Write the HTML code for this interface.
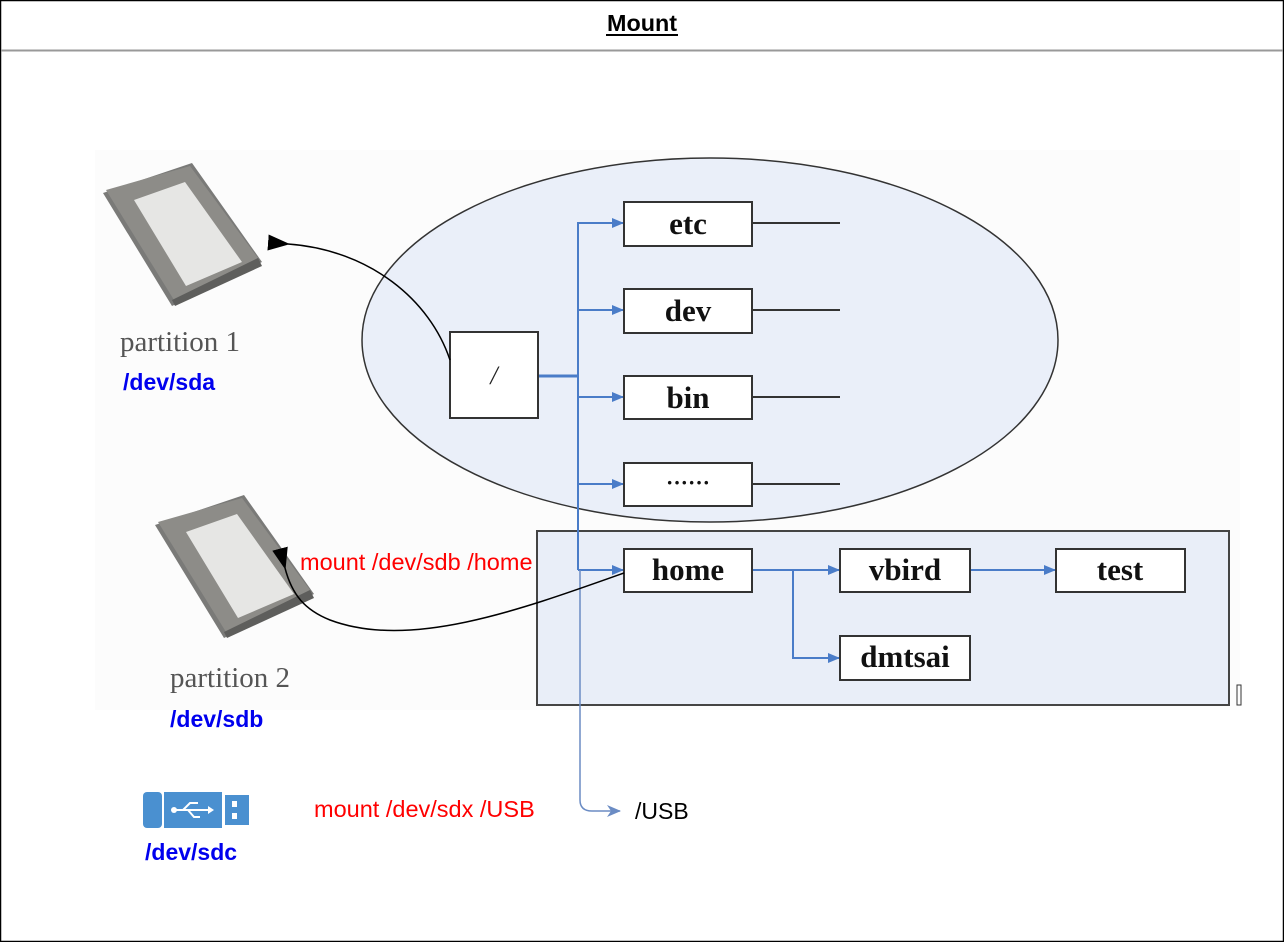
<!DOCTYPE html>
<html><head><meta charset="utf-8"><style>
html,body{margin:0;padding:0;background:#fff}
svg{display:block}
</style></head><body>
<svg width="1284" height="942" viewBox="0 0 1284 942" xmlns="http://www.w3.org/2000/svg">
<defs>
<marker id="ba" markerWidth="12" markerHeight="10" refX="11" refY="5" orient="auto" markerUnits="userSpaceOnUse"><path d="M0,0 L12,5 L0,10 Z" fill="#4a7cc8"/></marker>
<marker id="ka" markerWidth="22" markerHeight="16" refX="2" refY="8" orient="auto" markerUnits="userSpaceOnUse"><path d="M0,8 L22,0 L22,16 Z" fill="#000"/></marker>
<marker id="oa" markerWidth="14" markerHeight="12" refX="13" refY="6" orient="auto" markerUnits="userSpaceOnUse"><path d="M0,0 L14,6 L0,12 L4,6 Z" fill="#6b8cc4"/></marker>
<g id="disk">
<polygon points="103,193 192,163 262,262 172,306" fill="#7a7a78"/>
<polygon points="106,190 190,166 258,258 174,300" fill="#8d8c88"/>
<polygon points="134,200 185,182 242,262 186,286" fill="#e6e6e4"/>
<polygon points="172,300 258,258 262,266 175,306" fill="#5e5e5c"/>
</g>
</defs>
<rect x="0.5" y="0.5" width="1283" height="941" fill="#fff" stroke="#000" stroke-width="1.5"/>
<line x1="1" y1="50.5" x2="1283" y2="50.5" stroke="#999" stroke-width="2"/>
<text x="607" y="31" textLength="70" lengthAdjust="spacingAndGlyphs" font-family="Liberation Sans, sans-serif" font-weight="bold" font-size="23">Mount</text>
<line x1="606" y1="35" x2="678" y2="35" stroke="#000" stroke-width="2"/>
<rect x="95" y="150" width="1145" height="560" fill="#fcfcfc"/>
<ellipse cx="710" cy="340" rx="348" ry="182" fill="#eaeff9" stroke="#333" stroke-width="1.5"/>
<rect x="537" y="531" width="692" height="174" fill="#e9eef8" stroke="#444" stroke-width="2"/>
<use href="#disk"/>
<use href="#disk" transform="translate(52,332)"/>
<g font-family="Liberation Serif, serif" fill="#555" font-size="29">
<text x="120" y="351">partition 1</text>
<text x="170" y="687">partition 2</text>
</g>
<g font-family="Liberation Sans, sans-serif" font-weight="bold" fill="#0000ee" font-size="23">
<text x="123" y="390">/dev/sda</text>
<text x="170" y="727">/dev/sdb</text>
<text x="145" y="860">/dev/sdc</text>
</g>
<g font-family="Liberation Sans, sans-serif" fill="#ff0000" font-size="23.5">
<text x="300" y="570">mount /dev/sdb /home</text>
<text x="314" y="817">mount /dev/sdx /USB</text>
</g>
<text x="635" y="819" font-family="Liberation Sans, sans-serif" font-size="23">/USB</text>
<!-- usb icon -->
<rect x="143" y="792" width="19" height="36" rx="4" fill="#4a90d0"/>
<rect x="164" y="792" width="58" height="36" fill="#4a90d0"/>
<rect x="225" y="795" width="24" height="30" fill="#4a90d0"/>
<rect x="232" y="801" width="5" height="6" fill="#fff"/><rect x="232" y="813" width="5" height="6" fill="#fff"/>
<g stroke="#fff" stroke-width="2" fill="none"><line x1="175" y1="810" x2="210" y2="810"/><path d="M183,810 L190,803 L198,803 M188,810 L194,817 L200,817"/></g>
<circle cx="174" cy="810" r="3" fill="#fff"/><path d="M208,806 L214,810 L208,814Z" fill="#fff"/>
<!-- blue trunk -->
<g stroke="#4a7cc8" stroke-width="2" fill="none">
<line x1="538" y1="376" x2="578" y2="376" stroke-width="3"/>
<line x1="578" y1="222" x2="578" y2="570"/>
<line x1="578" y1="223" x2="623" y2="223" marker-end="url(#ba)"/>
<line x1="578" y1="310" x2="623" y2="310" marker-end="url(#ba)"/>
<line x1="578" y1="397" x2="623" y2="397" marker-end="url(#ba)"/>
<line x1="578" y1="484" x2="623" y2="484" marker-end="url(#ba)"/>
<line x1="578" y1="570" x2="623" y2="570" marker-end="url(#ba)"/>
<line x1="752" y1="570" x2="839" y2="570" marker-end="url(#ba)"/>
<path d="M793,570 V658 H839" marker-end="url(#ba)"/>
<line x1="970" y1="570" x2="1055" y2="570" marker-end="url(#ba)"/>
</g>
<path d="M580,570 V800 Q580,811 592,811 H620" stroke="#6b8cc4" stroke-width="1.5" fill="none" marker-end="url(#oa)"/>
<g stroke="#333" stroke-width="2">
<line x1="752" y1="223" x2="840" y2="223"/><line x1="752" y1="310" x2="840" y2="310"/>
<line x1="752" y1="397" x2="840" y2="397"/><line x1="752" y1="484" x2="840" y2="484"/>
</g>
<g fill="#fff" stroke="#333" stroke-width="2">
<rect x="450" y="332" width="88" height="86"/>
<rect x="624" y="202" width="128" height="44"/><rect x="624" y="289" width="128" height="44"/>
<rect x="624" y="376" width="128" height="43"/><rect x="624" y="463" width="128" height="43"/>
<rect x="624" y="549" width="128" height="43"/><rect x="840" y="549" width="130" height="43"/>
<rect x="1056" y="549" width="129" height="43"/><rect x="840" y="636" width="130" height="44"/>
</g>
<g font-family="Liberation Serif, serif" font-weight="bold" font-size="31" text-anchor="middle" fill="#111">
<text x="688" y="234">etc</text><text x="688" y="321">dev</text><text x="688" y="408">bin</text>
<text x="688" y="490" font-size="22">······</text>
<text x="688" y="580">home</text><text x="905" y="580">vbird</text><text x="1120" y="580">test</text><text x="905" y="667">dmtsai</text>
</g>
<text x="494" y="384" text-anchor="middle" font-family="Liberation Serif, serif" font-style="italic" font-size="26" fill="#222">/</text>
<!-- black arrows -->
<path d="M450,360 C430,300 370,250 288,244" stroke="#000" stroke-width="1.5" fill="none" marker-end="url(#ka)"/>
<path d="M624,573 C520,610 410,650 330,620 C305,610 292,595 285,568" stroke="#000" stroke-width="1.5" fill="none" marker-end="url(#ka)"/>
<rect x="1237" y="685" width="4" height="20" fill="none" stroke="#333" stroke-width="1"/>
</svg>
</body></html>
